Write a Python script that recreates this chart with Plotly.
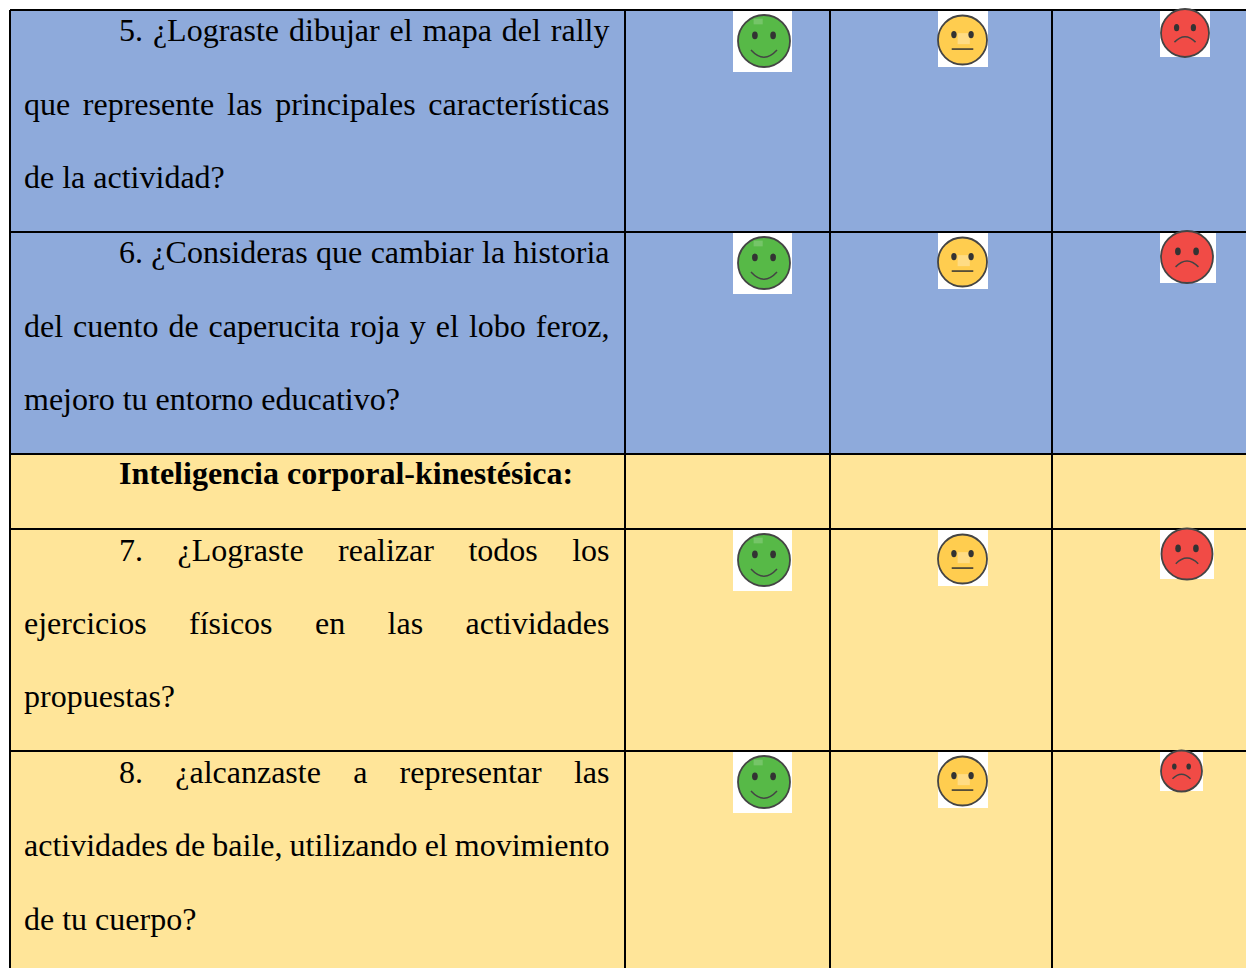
import plotly.graph_objects as go

# ---------- content ----------
row_edges = [10, 232, 454, 529, 751, 975]
col_edges = [10, 625, 830, 1052, 1255]
row_colors = ["#8EAADB", "#8EAADB", "#FFE599", "#FFE599", "#FFE599"]

heading = "Inteligencia corporal-kinestésica:"
question_lines = [
    "5. ¿Lograste dibujar el mapa del rally",
    "que represente las principales características",
    "de la actividad?",
    "6. ¿Consideras que cambiar la historia",
    "del cuento de caperucita roja y el lobo feroz,",
    "mejoro tu entorno educativo?",
    "7. ¿Lograste realizar todos los",
    "ejercicios físicos en las actividades",
    "propuestas?",
    "8. ¿alcanzaste a representar las",
    "actividades de baile, utilizando el movimiento",
    "de tu cuerpo?",
]
line_anchor_y = [48.5, 122.5, 195.5, 270.5, 344.5, 417.5, 568.5, 641.5, 714.5, 790.5, 863.5, 937.5]
heading_anchor_y = 491.5
line_indented = [1, 0, 0, 1, 0, 0, 1, 0, 0, 1, 0, 0]
line_justified = [1, 1, 0, 1, 1, 0, 1, 1, 0, 1, 1, 0]

# faces: kind, white box (x0, x1, y0, y1), face centre (x, y), radius
face_kinds = ["happy", "neutral", "sad"] * 4
box_x0 = [733, 938, 1160] * 4
box_x1 = [792, 988, 1210, 792, 988, 1216, 792, 988, 1214, 792, 988, 1203]
box_y0 = [10, 10, 10, 232, 232, 232, 529, 529, 529, 751, 751, 751]
box_y1 = [72, 67, 57, 294, 289, 283, 591, 586, 579, 813, 808, 791]
face_x = [764, 962.5, 1185, 764, 962.5, 1187, 764, 962.5, 1187, 764, 962.5, 1181.5]
face_y = [41, 40, 33, 263, 262, 257, 560, 559, 554, 782, 781, 771]
face_r = [26, 24.5, 24, 26, 24.5, 26, 26, 24.5, 25.5, 26, 24.5, 20.5]

# ---------- styling ----------
FONT = "Liberation Serif"
FONT_PX = 32
LEFT, INDENT, RIGHT = 24, 119, 609.5
INK = "#444444"
FILLS = {"happy": "#57B947", "neutral": "#FFCD4F", "sad": "#F14B46"}

# Times advance widths (per 1000 em) used to justify the lines as the original does
W = dict(a=444, b=500, c=444, d=500, e=444, f=333, g=500, h=500, i=278, j=278, k=500, l=278,
         m=778, n=500, o=500, p=500, q=500, r=333, s=389, t=278, u=500, v=500, w=722, x=500,
         y=500, z=444)
W.update({"í": 278, "é": 444, "ó": 500, "¿": 444, "?": 444, ",": 250, ".": 250,
          "5": 500, "6": 500, "7": 500, "8": 500, "L": 611, "C": 667})


def width(word):
    return sum(W[c] for c in word) * FONT_PX / 1000


shapes = []


def rect(x0, x1, y0, y1, fill):
    shapes.append(dict(type="rect", x0=x0, x1=x1, y0=y0, y1=y1, fillcolor=fill,
                       line_width=0, layer="below"))


def line(x0, y0, x1, y1, color="#000000", w=2):
    shapes.append(dict(type="line", x0=x0, y0=y0, x1=x1, y1=y1,
                       line=dict(color=color, width=w), layer="below"))


for top, bottom, color in zip(row_edges, row_edges[1:], row_colors):
    rect(col_edges[0], col_edges[-1], top, bottom, color)

for y in row_edges[:-1]:
    line(col_edges[0], y, col_edges[-1], y)
for x in col_edges[:-1]:
    line(x, row_edges[0], x, row_edges[-1])

for i, kind in enumerate(face_kinds):
    rect(box_x0[i], box_x1[i], box_y0[i] + 1, box_y1[i], "#FFFFFF")
    cx, cy, r = face_x[i], face_y[i], face_r[i]
    shapes.append(dict(type="circle", x0=cx - r, x1=cx + r, y0=cy - r, y1=cy + r,
                       fillcolor=FILLS[kind], line=dict(color=INK, width=1.8), layer="below"))
    if kind == "neutral":
        wx, wy = cx - 0.2 * r, cy - 0.28 * r
        rect(wx, wx + 0.5 * r, wy, wy + 0.45 * r, "rgba(255,255,255,0.3)")
    for side in (-1, 1):
        ex, ey = cx + side * 0.35 * r, cy - 0.22 * r
        shapes.append(dict(type="circle", x0=ex - 0.11 * r, x1=ex + 0.11 * r,
                           y0=ey - 0.15 * r, y1=ey + 0.15 * r,
                           fillcolor="#333333", line_width=0, layer="below"))
    if kind == "neutral":
        line(cx - 0.44 * r, cy + 0.37 * r, cx + 0.44 * r, cy + 0.37 * r, "#333333", 1.5)
    elif kind == "happy":
        mx, my = 0.5 * r, 0.35 * r
        shapes.append(dict(type="path",
                           path=f"M {cx - mx} {cy + my} Q {cx} {cy + my + 0.55 * r} {cx + mx} {cy + my}",
                           line=dict(color=INK, width=1.5), layer="below"))
        wx, wy = cx - 0.4 * r, cy - 0.86 * r
        rect(wx, wx + 0.35 * r, wy, wy + 0.22 * r, "rgba(255,255,255,0.18)")
    else:
        mx, my = 0.44 * r, 0.38 * r
        shapes.append(dict(type="path",
                           path=f"M {cx - mx} {cy + my} Q {cx} {cy + my - 0.45 * r} {cx + mx} {cy + my}",
                           line=dict(color=INK, width=1.5), layer="below"))

# ---------- text as data-positioned words ----------
word_x, word_y, word_text = [], [], []
for text, anchor, ind, just in zip(question_lines, line_anchor_y, line_indented, line_justified):
    words = text.split(" ")
    x = INDENT if ind else LEFT
    total = sum(width(w) for w in words)
    gap = (RIGHT - x - total) / (len(words) - 1) if just else 0.25 * FONT_PX
    for w in words:
        word_x.append(x)
        word_y.append(anchor)
        word_text.append(w)
        x += width(w) + gap

fig = go.Figure()
fig.add_trace(go.Scatter(x=word_x, y=word_y, text=word_text, mode="text",
                         textposition="top right", hoverinfo="skip",
                         textfont=dict(family=FONT, size=FONT_PX, color="#000000")))
fig.add_trace(go.Scatter(x=[INDENT], y=[heading_anchor_y], text=[f"<b>{heading}</b>"], mode="text",
                         textposition="top right", hoverinfo="skip",
                         textfont=dict(family=FONT, size=FONT_PX, color="#000000")))

fig.update_layout(
    width=1246, height=968, margin=dict(l=0, r=0, t=0, b=0),
    paper_bgcolor="#FFFFFF", plot_bgcolor="#FFFFFF", showlegend=False, shapes=shapes,
    xaxis=dict(range=[0, 1246], visible=False, fixedrange=True),
    yaxis=dict(range=[968, 0], visible=False, fixedrange=True),
)
fig.write_html("out.html", config=dict(displayModeBar=False),
               post_script="document.body.style.margin='0';document.body.style.overflow='hidden';")
